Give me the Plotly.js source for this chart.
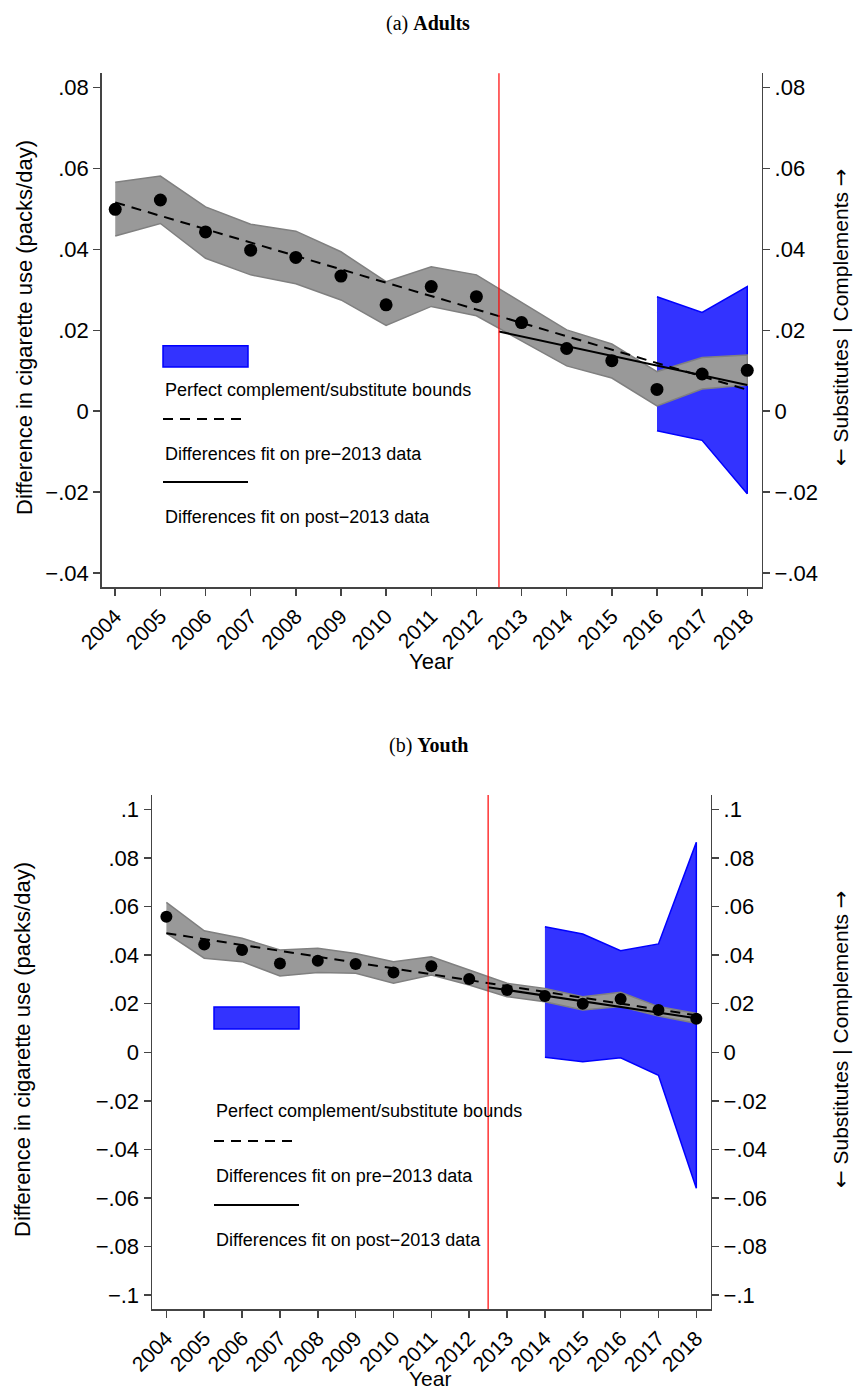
<!DOCTYPE html>
<html>
<head>
<meta charset="utf-8">
<script src="https://cdn.plot.ly/plotly-3.0.1.min.js"></script>
<style>
  html, body { margin: 0; padding: 0; background: #ffffff; }
  #chart { width: 856px; height: 1393px; }
</style>
</head>
<body>
<div id="chart"></div>
<script>
// ---------------- DATA ----------------
const years = [2004, 2005, 2006, 2007, 2008, 2009, 2010, 2011, 2012, 2013, 2014, 2015, 2016, 2017, 2018];
const yearLabels = ["2004","2005","2006","2007","2008","2009","2010","2011","2012","2013","2014","2015","2016","2017","2018"];
const policyYear = 2012.5;

// (a) Adults
const adultsPoint = [0.0499, 0.0522, 0.0443, 0.0398, 0.0380, 0.0334, 0.0263, 0.0308, 0.0283, 0.0219, 0.0155, 0.0125, 0.0054, 0.0092, 0.0101];
const adultsUpper = [0.0566, 0.0581, 0.0505, 0.0462, 0.0445, 0.0394, 0.0320, 0.0357, 0.0337, 0.0268, 0.0201, 0.0166, 0.0098, 0.0133, 0.0139];
const adultsLower = [0.0433, 0.0464, 0.0378, 0.0337, 0.0315, 0.0275, 0.0212, 0.0259, 0.0236, 0.0174, 0.0112, 0.0082, 0.0013, 0.0055, 0.0065];
const adultsBoundYears = [2016, 2017, 2018];
const adultsBoundUpper = [0.0283, 0.0244, 0.0308];
const adultsBoundLower = [-0.0048, -0.0072, -0.0204];
const adultsFitPreX = [2004, 2018];
const adultsFitPreY = [0.0516, 0.0053];
const adultsFitPostX = [2012.5, 2018];
const adultsFitPostY = [0.0197, 0.0065];

// (b) Youth
const youthPoint = [0.0558, 0.0444, 0.0421, 0.0365, 0.0377, 0.0363, 0.0328, 0.0354, 0.0302, 0.0256, 0.0232, 0.0200, 0.0219, 0.0174, 0.0138];
const youthUpper = [0.0617, 0.0500, 0.0469, 0.0421, 0.0428, 0.0407, 0.0373, 0.0393, 0.0339, 0.0284, 0.0263, 0.0229, 0.0247, 0.0188, 0.0160];
const youthLower = [0.0490, 0.0387, 0.0373, 0.0314, 0.0328, 0.0325, 0.0284, 0.0318, 0.0277, 0.0229, 0.0208, 0.0174, 0.0188, 0.0149, 0.0119];
const youthBoundYears = [2014, 2015, 2016, 2017, 2018];
const youthBoundUpper = [0.0517, 0.0487, 0.0418, 0.0446, 0.0864];
const youthBoundLower = [-0.0021, -0.0039, -0.0023, -0.0095, -0.0560];
const youthFitPreX = [2004, 2018];
const youthFitPreY = [0.0490, 0.0152];
const youthFitPostX = [2012.5, 2018];
const youthFitPostY = [0.0268, 0.0140];

// Tick labels
const adultsTickVals = [-0.04, -0.02, 0, 0.02, 0.04, 0.06, 0.08];
const adultsTickText = ["\u2212.04", "\u2212.02", "0", ".02", ".04", ".06", ".08"];
const youthTickVals = [-0.1, -0.08, -0.06, -0.04, -0.02, 0, 0.02, 0.04, 0.06, 0.08, 0.1];
const youthTickText = ["\u2212.1", "\u2212.08", "\u2212.06", "\u2212.04", "\u2212.02", "0", ".02", ".04", ".06", ".08", ".1"];

const legendLabels = ["Perfect complement/substitute bounds", "Differences fit on pre\u22122013 data", "Differences fit on post\u22122013 data"];
const yTitle = "Difference in cigarette use (packs/day)";
const y2Title = "<span style=\"font-family:DejaVu Sans\">\u2190</span> Substitutes | Complements <span style=\"font-family:DejaVu Sans\">\u2192</span>";

// ---------------- STYLE / LAYOUT ----------------
const W = 856, H = 1393;
const px = v => v / W;
const py = v => 1 - v / H;
const FONT = "Liberation Sans, Arial, Helvetica, sans-serif";
const SERIF = "Liberation Serif, DejaVu Serif, serif";
const BLUE_FILL = "#3333ff", BLUE_LINE = "#0000ff";
const GRAY_FILL = "#999999", GRAY_LINE = "#808080";
const AXIS_COLOR = "#444444";

function polygon(xs, up, lo) {
  return {
    x: xs.concat(xs.slice().reverse()),
    y: up.concat(lo.slice().reverse())
  };
}

function panelTraces(xa, ya, ya2, bYears, bUp, bLo, up, lo, pts, preX, preY, postX, postY, msize) {
  const blue = polygon(bYears, bUp, bLo);
  const gray = polygon(years, up, lo);
  return [
    { x: blue.x, y: blue.y, xaxis: xa, yaxis: ya, mode: "lines", fill: "toself",
      fillcolor: BLUE_FILL, line: { color: BLUE_LINE, width: 1.5 }, hoverinfo: "skip", showlegend: false },
    { x: gray.x, y: gray.y, xaxis: xa, yaxis: ya, mode: "lines", fill: "toself",
      fillcolor: GRAY_FILL, line: { color: GRAY_LINE, width: 1.5 }, hoverinfo: "skip", showlegend: false },
    { x: preX, y: preY, xaxis: xa, yaxis: ya, mode: "lines",
      line: { color: "#000000", width: 2, dash: "10px,7px" }, showlegend: false },
    { x: postX, y: postY, xaxis: xa, yaxis: ya, mode: "lines",
      line: { color: "#000000", width: 2 }, showlegend: false },
    { x: years, y: pts, xaxis: xa, yaxis: ya, mode: "markers",
      marker: { color: "#000000", size: msize }, showlegend: false },
    // same points bound to the right-hand (mirrored) axis so that it is drawn; invisible
    { x: years, y: pts, xaxis: xa, yaxis: ya2, mode: "markers",
      marker: { color: "rgba(0,0,0,0)", size: 1 }, hoverinfo: "skip", showlegend: false }
  ];
}

const data = [].concat(
  panelTraces("x", "y", "y2", adultsBoundYears, adultsBoundUpper, adultsBoundLower, adultsUpper, adultsLower, adultsPoint,
              adultsFitPreX, adultsFitPreY, adultsFitPostX, adultsFitPostY, 13),
  panelTraces("x2", "y3", "y4", youthBoundYears, youthBoundUpper, youthBoundLower, youthUpper, youthLower, youthPoint,
              youthFitPreX, youthFitPreY, youthFitPostX, youthFitPostY, 12)
);

function xAxis(domain, range, anchor) {
  return {
    domain: domain, range: range, anchor: anchor,
    tickmode: "array", tickvals: years, ticktext: yearLabels, tickangle: -45,
    ticks: "outside", ticklen: 7, tickwidth: 1.5, tickcolor: AXIS_COLOR,
    showline: true, linecolor: AXIS_COLOR, linewidth: 1.5,
    showgrid: false, zeroline: false,
    tickfont: { family: FONT, size: 21, color: "#000000" }
  };
}
function yAxis(domain, range, anchor, vals, text, side, overlaying) {
  const a = {
    domain: domain, range: range, anchor: anchor, side: side,
    tickmode: "array", tickvals: vals, ticktext: text,
    ticks: "outside", ticklen: 7, tickwidth: 1.5, tickcolor: AXIS_COLOR,
    showline: true, linecolor: AXIS_COLOR, linewidth: 1.5,
    showgrid: false, zeroline: false,
    tickfont: { family: FONT, size: 22, color: "#000000" }
  };
  if (overlaying) a.overlaying = overlaying;
  return a;
}

const topDomY = [py(587.3), py(73.3)];
const botDomY = [py(1309.3), py(795)];
const topRange = [-0.0435, 0.0835];
const botRange = [-0.1058, 0.1059];

const layout = {
  width: W, height: H,
  margin: { l: 0, r: 0, t: 0, b: 0 },
  paper_bgcolor: "#ffffff", plot_bgcolor: "#ffffff",
  showlegend: false,
  font: { family: FONT, color: "#000000" },
  xaxis: xAxis([px(101.7), px(761.7)], [2003.7, 2018.32], "y"),
  yaxis: yAxis(topDomY, topRange, "x", adultsTickVals, adultsTickText, "left"),
  yaxis2: yAxis(topDomY, topRange, "x", adultsTickVals, adultsTickText, "right", "y"),
  xaxis2: xAxis([px(152), px(710.7)], [2003.62, 2018.38], "y3"),
  yaxis3: yAxis(botDomY, botRange, "x2", youthTickVals, youthTickText, "left"),
  yaxis4: yAxis(botDomY, botRange, "x2", youthTickVals, youthTickText, "right", "y3"),
  shapes: [
    // policy reference lines
    { type: "line", xref: "x", yref: "y domain", x0: policyYear, x1: policyYear, y0: 0, y1: 1,
      line: { color: "#ff0000", width: 1.2 } },
    { type: "line", xref: "x2", yref: "y3 domain", x0: policyYear, x1: policyYear, y0: 0, y1: 1,
      line: { color: "#ff0000", width: 1.2 } },
    // legend keys (a)
    { type: "rect", xref: "paper", yref: "paper", x0: px(163), x1: px(248), y0: py(367), y1: py(345.7),
      fillcolor: BLUE_FILL, line: { color: BLUE_LINE, width: 1.5 } },
    { type: "line", xref: "paper", yref: "paper", x0: px(163), x1: px(248), y0: py(419), y1: py(419),
      line: { color: "#000000", width: 2, dash: "10px,7px" } },
    { type: "line", xref: "paper", yref: "paper", x0: px(163), x1: px(248), y0: py(482), y1: py(482),
      line: { color: "#000000", width: 2 } },
    // legend keys (b)
    { type: "rect", xref: "paper", yref: "paper", x0: px(214), x1: px(299), y0: py(1029), y1: py(1007),
      fillcolor: BLUE_FILL, line: { color: BLUE_LINE, width: 1.5 } },
    { type: "line", xref: "paper", yref: "paper", x0: px(214), x1: px(299), y0: py(1141), y1: py(1141),
      line: { color: "#000000", width: 2, dash: "10px,7px" } },
    { type: "line", xref: "paper", yref: "paper", x0: px(214), x1: px(299), y0: py(1205), y1: py(1205),
      line: { color: "#000000", width: 2 } }
  ],
  annotations: []
};

function ann(text, x, y, opts) {
  return Object.assign({
    text: text, xref: "paper", yref: "paper", x: px(x), y: py(y),
    xanchor: "center", yanchor: "middle", showarrow: false,
    font: { family: FONT, size: 22, color: "#000000" }
  }, opts || {});
}

layout.annotations.push(
  ann("(a) <b>Adults</b>", 428, 24, { font: { family: SERIF, size: 20, color: "#000000" } }),
  ann("(b) <b>Youth</b>", 428, 745, { font: { family: SERIF, size: 20, color: "#000000" } }),
  ann(yTitle, 24, 328, { textangle: -90 }),
  ann(yTitle, 22, 1050, { textangle: -90 }),
  ann(y2Title, 841, 318, { textangle: -90, font: { family: FONT, size: 21, color: "#000000" } }),
  ann(y2Title, 841, 1040, { textangle: -90, font: { family: FONT, size: 21, color: "#000000" } }),
  ann("Year", 431, 661),
  ann("Year", 430, 1378, { font: { family: FONT, size: 21, color: "#000000" } }),
  // legend texts (a)
  ann(legendLabels[0], 163, 390, { xanchor: "left", font: { family: FONT, size: 18, color: "#000000" } }),
  ann(legendLabels[1], 163, 454, { xanchor: "left", font: { family: FONT, size: 18, color: "#000000" } }),
  ann(legendLabels[2], 163, 517, { xanchor: "left", font: { family: FONT, size: 18, color: "#000000" } }),
  // legend texts (b)
  ann(legendLabels[0], 214, 1111, { xanchor: "left", font: { family: FONT, size: 18, color: "#000000" } }),
  ann(legendLabels[1], 214, 1176, { xanchor: "left", font: { family: FONT, size: 18, color: "#000000" } }),
  ann(legendLabels[2], 214, 1240, { xanchor: "left", font: { family: FONT, size: 18, color: "#000000" } })
);

Plotly.newPlot("chart", data, layout, { staticPlot: true, displayModeBar: false });
</script>
</body>
</html>
